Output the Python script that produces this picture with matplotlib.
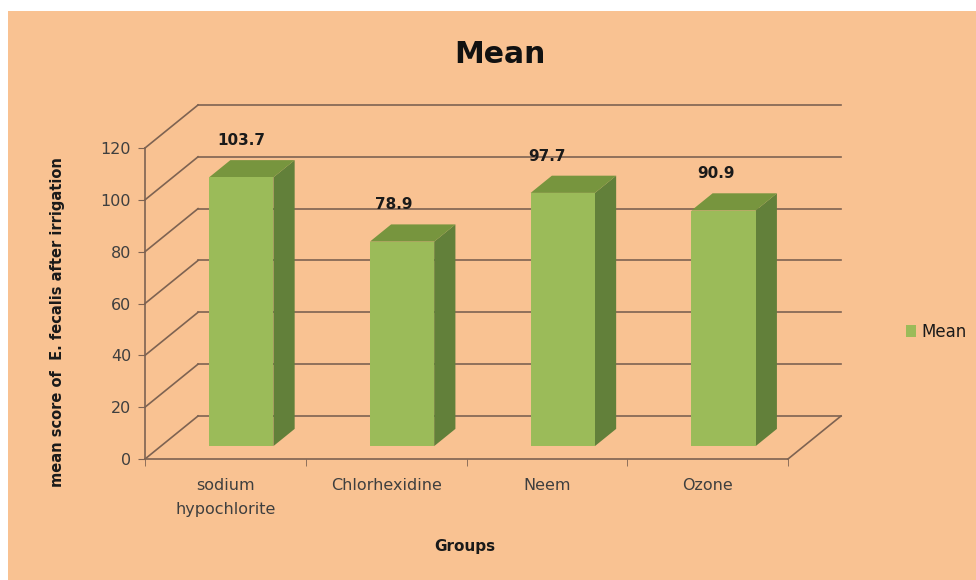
import numpy as np
import matplotlib
matplotlib.use("Agg")
import matplotlib.pyplot as plt
from matplotlib.patches import Rectangle, Patch

# data
groups = ['sodium\nhypochlorite', 'Chlorhexidine', 'Neem', 'Ozone']
means = [103.7, 78.9, 97.7, 90.9]
yticks = [0, 20, 40, 60, 80, 100, 120]
series_name = 'Mean'

# look
bg = '#F9C292'
grid_c = '#7E6352'
front_c = '#9BBB59'
side_c = '#62803A'
top_c = '#77953E'
txt_c = '#3F3F3F'
plt.rcParams['font.family'] = ['DejaVu Sans']

# fake 3d depth (x in category units, y in value units)
ox, oy = 0.33, 16.6
zf, zb = 0.30, 0.70
bw = 0.40
lab_dx = [0.10, 0.05, 0.0, 0.05]

def proj(x, y, z):
    return x + z * ox, y + z * oy

fig = plt.figure(figsize=(9.76, 5.80), dpi=100)
fig.patch.set_facecolor('white')
fig.patches.append(Rectangle((8/976, 0), 1 - 8/976, 1 - 11/580, transform=fig.transFigure,
                             facecolor=bg, edgecolor='none', zorder=-10))

ax = fig.add_axes([145/976, 121/580, 643/976, 311/580])
ax.set_zorder(5)
ax.patch.set_visible(False)
n = len(groups)
ax.set_xlim(-0.5, n - 0.5)
ax.set_ylim(0, 120)

# walls: back gridlines + left wall diagonals
for t in yticks:
    x0, y0 = proj(-0.5, t, 1)
    x1, y1 = proj(n - 0.5, t, 1)
    ax.plot([x0, x1], [y0, y1], color=grid_c, lw=1.2, clip_on=False, zorder=1)
    ax.plot([-0.5, x0], [t, y0], color=grid_c, lw=1.2, clip_on=False, zorder=1)
# floor right edge
x1, y1 = proj(n - 0.5, 0, 1)
ax.plot([n - 0.5, x1], [0, y1], color=grid_c, lw=1.2, clip_on=False, zorder=1)

# bars
for i, v in enumerate(means):
    l, r = i - bw / 2, i + bw / 2
    fl = proj(l, 0, zf); fr = proj(r, 0, zf)
    tl = proj(l, v, zf); tr = proj(r, v, zf)
    br_b = proj(r, 0, zb); br_t = proj(r, v, zb); bl_t = proj(l, v, zb)
    side = np.array([fr, br_b, br_t, tr])
    top = np.array([tl, tr, br_t, bl_t])
    ax.fill(side[:, 0], side[:, 1], color=side_c, clip_on=False, zorder=3, lw=0)
    ax.fill(top[:, 0], top[:, 1], color=top_c, clip_on=False, zorder=3, lw=0)
    ax.add_patch(Rectangle(fl, bw, v, facecolor=front_c, edgecolor='none', clip_on=False, zorder=4))
    ax.text(i + lab_dx[i], v + zb * oy + 7.5, f'{v:.1f}', ha='center', va='center',
            fontsize=11, fontweight='bold', color='#1a1a1a', zorder=5)

# axes
for s in ['top', 'right']:
    ax.spines[s].set_visible(False)
for s in ['left', 'bottom']:
    ax.spines[s].set_color(grid_c)
    ax.spines[s].set_linewidth(1.2)
ax.set_yticks(yticks)
ax.tick_params(axis='y', direction='out', length=5, color=grid_c, labelsize=11.5,
               labelcolor=txt_c, pad=5)
ax.set_xticks(range(n))
ax.set_xticklabels(groups)
for lb in ax.get_xticklabels():
    lb.set_linespacing(1.7)
ax.set_xticks(np.arange(-0.5, n), minor=True)
ax.tick_params(axis='x', which='major', length=0, labelsize=11.5, labelcolor=txt_c, pad=14)
ax.tick_params(axis='x', which='minor', length=5, color=grid_c, direction='out')

ax.set_ylabel('mean score of  E. fecalis after irrigation', fontsize=10.5,
              fontweight='bold', color='#1a1a1a')
ax.yaxis.set_label_coords(-0.124, 0.44)
ax.set_xlabel('Groups', fontsize=11, fontweight='bold', color='#1a1a1a')
ax.xaxis.set_label_coords(0.498, -0.258)

fig.text(500/976, 1 - 63/580, 'Mean', ha='center', va='baseline', fontsize=21.5,
         fontweight='bold', color='#111111')

fig.legend(handles=[Patch(facecolor=front_c, edgecolor='none')], labels=[series_name],
           loc='center left', bbox_to_anchor=(891/976, 1 - 332/580), frameon=False,
           fontsize=12, handlelength=0.6, handleheight=0.7, handletextpad=0.3,
           labelcolor='#1a1a1a')

fig.savefig('out.png', dpi=100)
